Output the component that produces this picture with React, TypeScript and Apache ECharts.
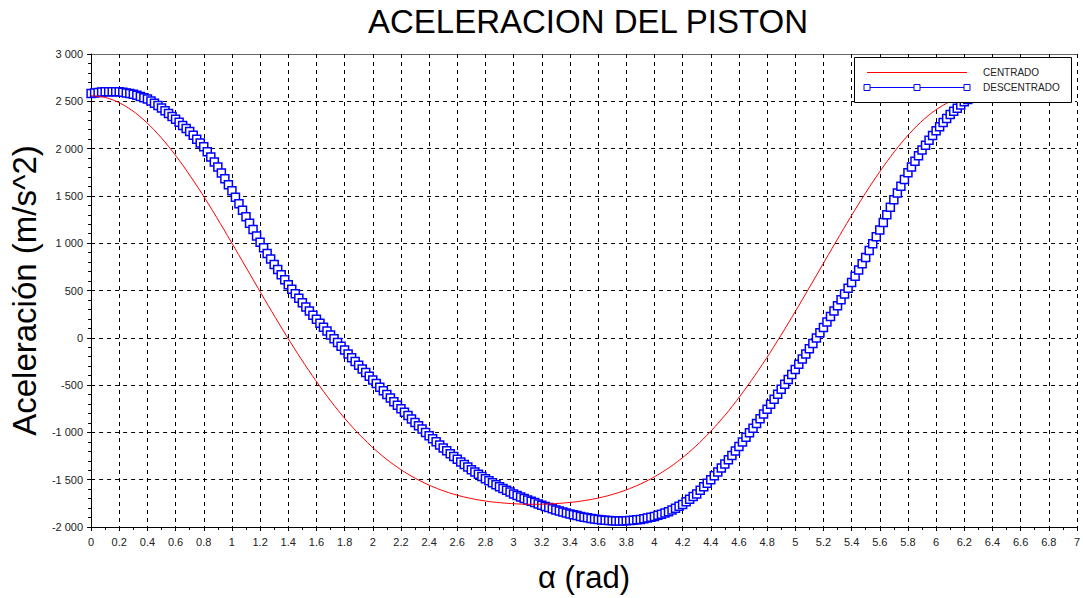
import React, { useEffect, useRef } from "react";
import * as echarts from "echarts";

// α sampling of the curves
const RED_STEP = Math.PI / 30; // 6° per sample
const BLUE_STEP = 0.025; // rad per sample

const TITLE = "ACELERACION DEL PISTON";
const X_NAME = "α (rad)";
const Y_NAME = "Aceleración (m/s^2)";
const SERIES_NAMES = ["CENTRADO", "DESCENTRADO"];

// CENTRADO acceleration (m/s^2)
const CENTRADO = [
  2560, 2539, 2478, 2378, 2241, 2071, 1871, 1647, 1404, 1146, 880, 611, 344, 84, -166, -400,
  -617, -815, -991, -1146, -1280, -1393, -1487, -1563, -1624, -1671, -1706, -1731, -1747, -1757,
  -1760, -1757, -1747, -1731, -1706, -1671, -1624, -1563, -1487, -1393, -1280, -1146, -991, -815,
  -617, -400, -166, 84, 344, 611, 880, 1146, 1404, 1647, 1871, 2071, 2241, 2378, 2478, 2539, 2560,
];

// DESCENTRADO acceleration (m/s^2)
const DESCENTRADO = [
  2583, 2589, 2594, 2598, 2600, 2602, 2602, 2601, 2600, 2595, 2589, 2582,
  2575, 2563, 2551, 2538, 2525, 2502, 2479, 2455, 2430, 2400, 2370, 2340,
  2310, 2278, 2245, 2213, 2180, 2140, 2100, 2060, 2020, 1966, 1912, 1859,
  1805, 1742, 1680, 1617, 1555, 1486, 1418, 1349, 1280, 1212, 1145, 1077,
  1010, 951, 892, 834, 775, 721, 667, 614, 560, 512, 465, 417,
  370, 326, 282, 239, 195, 154, 112, 71, 30, -10, -50, -90,
  -130, -170, -210, -250, -290, -329, -367, -406, -445, -484, -522, -561,
  -600, -637, -675, -712, -750, -786, -822, -859, -895, -930, -965, -1000,
  -1035, -1067, -1100, -1132, -1165, -1195, -1225, -1255, -1285, -1312, -1340, -1367,
  -1395, -1419, -1442, -1466, -1490, -1511, -1532, -1554, -1575, -1594, -1612, -1631,
  -1650, -1666, -1682, -1699, -1715, -1729, -1742, -1756, -1770, -1782, -1795, -1807,
  -1820, -1830, -1841, -1851, -1862, -1871, -1879, -1888, -1897, -1903, -1909, -1916,
  -1922, -1925, -1928, -1932, -1935, -1936, -1937, -1936, -1935, -1932, -1928, -1924,
  -1920, -1912, -1904, -1896, -1888, -1876, -1864, -1852, -1840, -1820, -1801, -1781,
  -1762, -1734, -1706, -1678, -1650, -1612, -1575, -1537, -1500, -1459, -1418, -1376,
  -1335, -1289, -1243, -1196, -1150, -1101, -1052, -1004, -955, -905, -855, -805,
  -755, -702, -650, -597, -545, -492, -440, -387, -335, -280, -225, -170,
  -115, -59, -2, 54, 110, 167, 225, 282, 340, 401, 462, 524,
  585, 651, 717, 784, 850, 922, 995, 1067, 1140, 1220, 1300, 1380,
  1460, 1531, 1602, 1674, 1745, 1805, 1865, 1925, 1985, 2036, 2087, 2139,
  2190, 2232, 2275, 2317, 2360, 2394, 2427, 2461, 2495, 2519, 2542, 2566,
];

const X_MIN = 0;
const X_MAX = 7;
const X_INTERVAL = 0.2;
const Y_MIN = -2000;
const Y_MAX = 3000;
const Y_INTERVAL = 500;

const FONT = "'Liberation Sans', Arial, Helvetica, sans-serif";

function fmtY(v: number): string {
  const s = String(Math.abs(Math.round(v)));
  const grouped = s.replace(/\B(?=(\d{3})+(?!\d))/g, " ");
  return (v < 0 ? "-" : "") + grouped;
}

export default function App() {
  const ref = useRef<HTMLDivElement>(null);

  useEffect(() => {
    if (!ref.current) return;
    const chart = echarts.init(ref.current, undefined, { renderer: "svg" });

    const redData = CENTRADO.map((v, i) => [i * RED_STEP, v]);
    const blueData = DESCENTRADO.map((v, i) => [i * BLUE_STEP, v]);

    const splitLine = {
      show: true,
      lineStyle: { color: "#000", width: 1, type: [4, 4] as any },
    };

    const Z = 100;

    chart.setOption({
      animation: false,
      backgroundColor: "#fff",
      textStyle: { fontFamily: FONT },
      title: {
        text: TITLE,
        left: 588,
        textAlign: "center",
        top: 5,
        padding: 0,
        textStyle: { fontSize: 33, fontWeight: "normal", color: "#000", fontFamily: FONT },
      },
      grid: { left: 89, top: 54, right: -1, bottom: 70, containLabel: false },
      xAxis: [
        {
          type: "value",
          min: X_MIN,
          max: X_MAX,
          interval: X_INTERVAL,
          position: "bottom",
          name: X_NAME,
          nameLocation: "middle",
          nameGap: 35,
          nameTextStyle: { fontSize: 31, color: "#000", fontFamily: FONT },
          axisLine: { onZero: false, lineStyle: { color: "#000", width: 1 } },
          axisTick: { show: true, length: 4, lineStyle: { color: "#000" } },
          minorTick: { show: true, splitNumber: 2, length: 3, lineStyle: { color: "#000" } },
          axisLabel: { fontSize: 11, color: "#222", margin: 9, fontFamily: FONT },
          splitLine,
        },
        {
          type: "value",
          min: X_MIN,
          max: X_MAX,
          interval: X_INTERVAL,
          position: "top",
          axisLine: { onZero: false, lineStyle: { color: "#666", width: 1 } },
          axisTick: { show: true, inside: true, length: 4, lineStyle: { color: "#000" } },
          axisLabel: { show: false },
          splitLine: { show: false },
        },
      ],
      yAxis: {
        type: "value",
        min: Y_MIN,
        max: Y_MAX,
        interval: Y_INTERVAL,
        name: Y_NAME,
        nameLocation: "middle",
        nameGap: 42,
        nameTextStyle: { fontSize: 33, color: "#000", fontFamily: FONT },
        axisLine: { show: true, onZero: false, lineStyle: { color: "#000", width: 1 } },
        axisTick: { show: true, length: 4, lineStyle: { color: "#000" } },
        minorTick: { show: true, splitNumber: 5, length: 3, lineStyle: { color: "#000" } },
        axisLabel: { fontSize: 11, color: "#222", margin: 8, formatter: fmtY, fontFamily: FONT },
        splitLine,
      },
      series: [
        {
          name: SERIES_NAMES[0],
          type: "line",
          data: redData,
          showSymbol: false,
          symbol: "none",
          smooth: 0.3,
          lineStyle: { color: "#ff0000", width: 1 },
          itemStyle: { color: "#ff0000" },
          z: 4,
        },
        {
          name: SERIES_NAMES[1],
          type: "line",
          data: blueData,
          symbol: "rect",
          symbolSize: 8,
          showAllSymbol: true,
          lineStyle: { color: "#0000ff", width: 1 },
          itemStyle: { color: "#ffffff", borderColor: "#0000ff", borderWidth: 1.5 },
          z: 3,
        },
      ],
      graphic: [
        {
          type: "rect",
          z: Z,
          shape: { x: 854.5, y: 57.5, width: 217, height: 45 },
          style: { fill: "#fff", stroke: "#000", lineWidth: 1 },
        },
        {
          type: "line",
          z: Z + 1,
          shape: { x1: 867, y1: 72.5, x2: 967, y2: 72.5 },
          style: { stroke: "#ff0000", lineWidth: 1 },
        },
        {
          type: "line",
          z: Z + 1,
          shape: { x1: 867, y1: 87.5, x2: 967, y2: 87.5 },
          style: { stroke: "#0000ff", lineWidth: 1 },
        },
        {
          type: "rect",
          z: Z + 2,
          shape: { x: 864, y: 84.5, width: 6, height: 6 },
          style: { fill: "#fff", stroke: "#0000ff", lineWidth: 1 },
        },
        {
          type: "rect",
          z: Z + 2,
          shape: { x: 914, y: 84.5, width: 6, height: 6 },
          style: { fill: "#fff", stroke: "#0000ff", lineWidth: 1 },
        },
        {
          type: "rect",
          z: Z + 2,
          shape: { x: 964, y: 84.5, width: 6, height: 6 },
          style: { fill: "#fff", stroke: "#0000ff", lineWidth: 1 },
        },
        {
          type: "text",
          z: Z + 2,
          x: 983,
          y: 72.5,
          style: {
            text: SERIES_NAMES[0],
            fontSize: 10,
            fill: "#222",
            fontFamily: FONT,
            verticalAlign: "middle",
            align: "left",
          },
        },
        {
          type: "text",
          z: Z + 2,
          x: 983,
          y: 87.5,
          style: {
            text: SERIES_NAMES[1],
            fontSize: 10,
            fill: "#222",
            fontFamily: FONT,
            verticalAlign: "middle",
            align: "left",
          },
        },
      ],
    });

    return () => chart.dispose();
  }, []);

  return (
    <div
      ref={ref}
      style={{ position: "absolute", left: 0, top: 0, width: 1083, height: 598, background: "#fff" }}
    />
  );
}
